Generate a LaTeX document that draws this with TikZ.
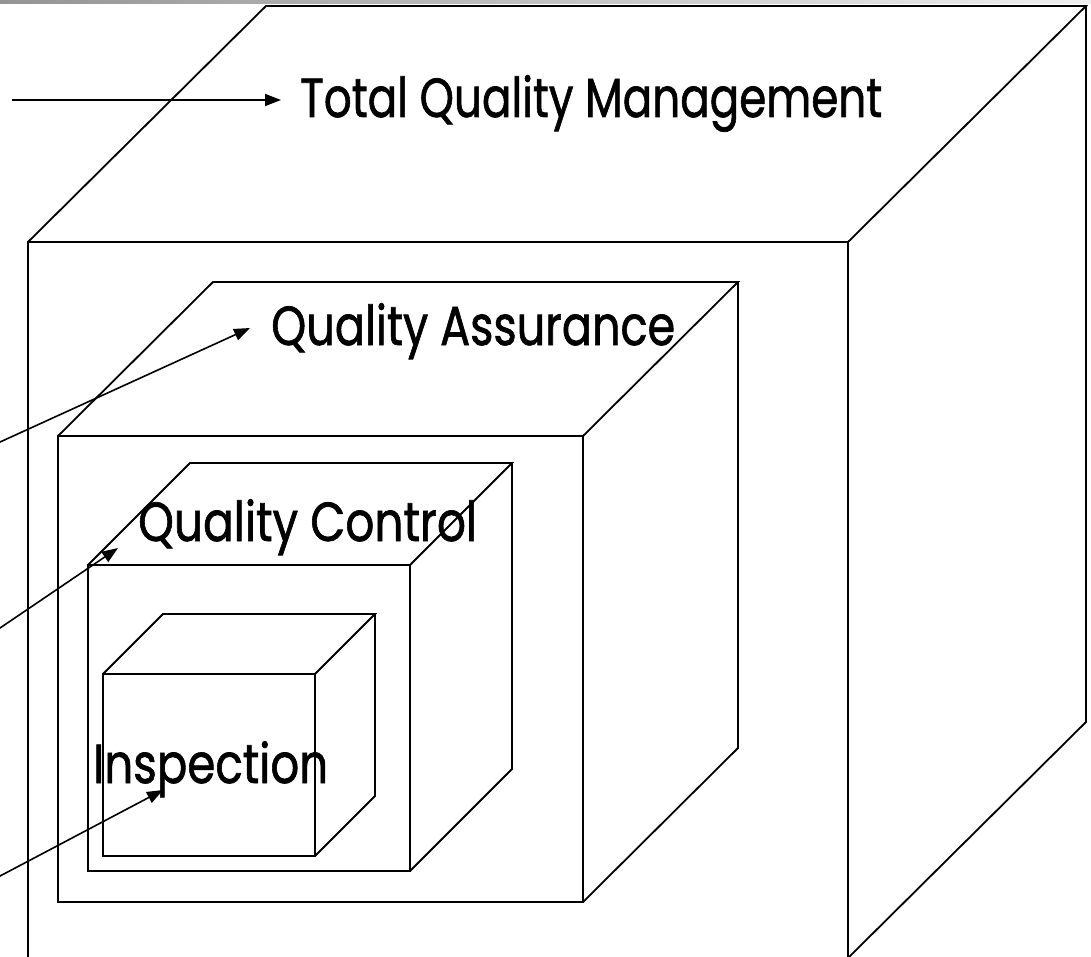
\documentclass[tikz,border=0pt]{standalone}
\usepackage{graphicx}
\usepackage{fontspec}
\setmainfont{Poppins}
\newfontfamily\lblfont{Poppins}[FakeBold=1.3]
\usetikzlibrary{arrows.meta}
\tikzset{
  x=1pt, y=-1pt,
  edge/.style={line width=1.8pt, line join=miter},
  pointer/.style={line width=1.6pt, -{Triangle[length=16pt,width=12pt]}},
  txt/.style={inner sep=0pt, anchor=base west, font=\lblfont\fontsize{55}{60}\selectfont},
}
\begin{document}
\begin{tikzpicture}
\useasboundingbox (0,0) rectangle (1091,957);
\clip (0,0) rectangle (1091,957);
\fill[white] (0,0) rectangle (1091,957);
% top gradient bar
\shade[left color=black!42, right color=black!6] (0,0) rectangle (1091,4);

% Total Quality Management cube
\draw[edge] (28,960) -- (28,242) -- (848,242) -- (848,960);
\draw[edge] (28,242) -- (266,6) -- (1086,6) -- (848,242);
\draw[edge] (1086,6) -- (1086,722) -- (848,958);

% Quality Assurance cube
\draw[edge] (58,436) rectangle (583,902);
\draw[edge] (58,436) -- (213,282) -- (738,282) -- (583,436);
\draw[edge] (738,282) -- (738,748) -- (583,902);

% Quality Control cube
\draw[edge] (88,565) rectangle (410,871);
\draw[edge] (88,565) -- (190,463) -- (512,463) -- (410,565);
\draw[edge] (512,463) -- (512,769) -- (410,871);

% Inspection cube
\draw[edge] (103,674) rectangle (315,856);
\draw[edge] (103,674) -- (163,614) -- (375,614) -- (315,674);
\draw[edge] (375,614) -- (375,796) -- (315,856);

% labels
\node[txt] (tqm) at (300,117) {\resizebox{582pt}{\height}{Total Quality Management}};
\node[txt] (qa) at (271,345) {\resizebox{404pt}{\height}{Quality Assurance}};
\node[txt] (qc) at (138,541) {\resizebox{339pt}{\height}{Quality Control}};
\node[txt] (insp) at (93,783) {\resizebox{235pt}{\height}{Inspection}};

% pointers
\coordinate (s1) at (12,100);   \coordinate (t1) at (281,100);
\coordinate (s2) at (-10,446.6); \coordinate (t2) at (250,328);
\coordinate (s3) at (-10,634.8); \coordinate (t3) at (118,548);
\coordinate (s4) at (-10,881.3); \coordinate (t4) at (163,790);
\draw[pointer] (s1) -- (t1);
\draw[pointer] (s2) -- (t2);
\draw[pointer] (s3) -- (t3);
\draw[pointer] (s4) -- (t4);
\end{tikzpicture}
\end{document}
